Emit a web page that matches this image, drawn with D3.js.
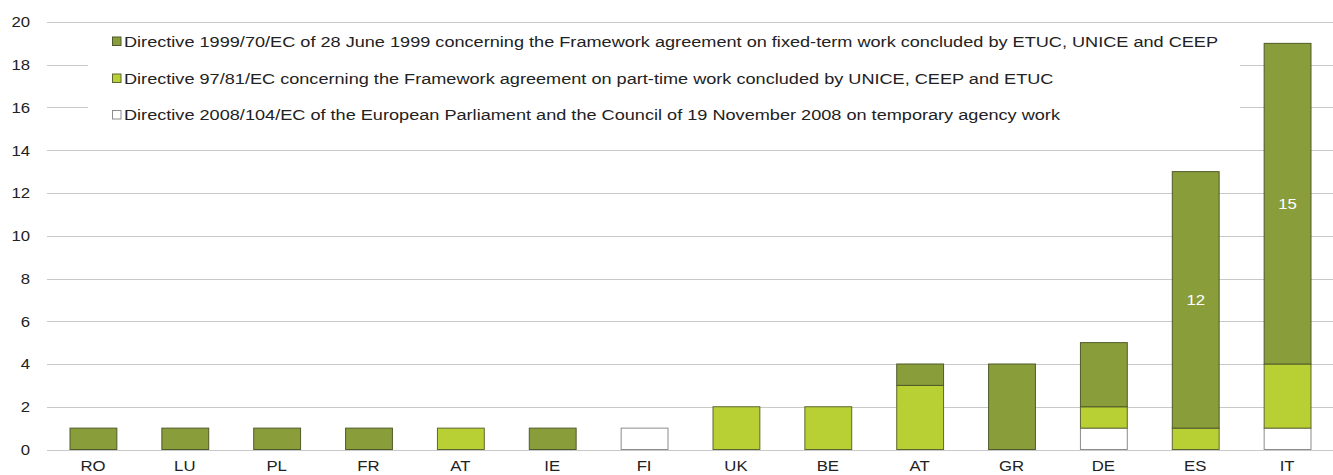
<!DOCTYPE html>
<html>
<head>
<meta charset="utf-8">
<script src="https://cdn.jsdelivr.net/npm/d3@7"></script>
<style>
  html, body { margin: 0; padding: 0; background: #fff; }
  svg { display: block; }
  svg text { font-family: Arial, "Liberation Sans", Helvetica, sans-serif; }
</style>
</head>
<body>
<div id="chart"></div>
<script>
// Countries along the x axis (AT appears twice in the source listing)
const countries = ["RO", "LU", "PL", "FR", "AT", "IE", "FI", "UK", "BE", "AT", "GR", "DE", "ES", "IT"];

// Number of cases per directive, one value per country
const agencyWork   = [0, 0, 0, 0, 0, 0, 1, 0, 0, 0, 0, 1, 0, 1];
const partTime     = [0, 0, 0, 0, 1, 0, 0, 2, 2, 3, 0, 1, 1, 3];
const fixedTerm    = [1, 1, 1, 1, 0, 1, 0, 0, 0, 1, 4, 3, 12, 15];

const seriesNames = [
  "Directive 1999/70/EC of 28 June 1999 concerning the Framework agreement on fixed-term work concluded by ETUC, UNICE and CEEP",
  "Directive 97/81/EC concerning the Framework agreement on part-time work concluded by UNICE, CEEP and ETUC",
  "Directive 2008/104/EC of the European Parliament and the Council of 19 November 2008 on temporary agency work"
];

const yTicks = [0, 2, 4, 6, 8, 10, 12, 14, 16, 18, 20];
const labelledValues = [12, 15]; // values written inside their segments

const W = 1333, H = 475;
const margin = { top: 22, right: 0, bottom: 25.5, left: 47 };

const svg = d3.select("#chart").append("svg").attr("width", W).attr("height", H);

const x = d3.scaleBand()
  .domain(d3.range(countries.length))
  .range([margin.left, W - margin.right])
  .paddingInner(0.49).paddingOuter(0.245);

const y = d3.scaleLinear().domain([0, 20]).range([H - margin.bottom, margin.top]);

// Horizontal gridlines
svg.append("g").selectAll("line").data(yTicks).join("line")
  .attr("x1", margin.left).attr("x2", W)
  .attr("y1", d => Math.round(y(d)) + 0.5).attr("y2", d => Math.round(y(d)) + 0.5)
  .attr("stroke", "#c8c8c8").attr("stroke-width", 1.2);

// Y tick labels (text is drawn slightly wide)
svg.append("g").selectAll("text").data(yTicks).join("text")
  .attr("transform", d => `translate(30,${y(d)}) scale(1.08,1)`)
  .attr("dy", "0.35em")
  .attr("text-anchor", "end").attr("font-size", 15.5).attr("fill", "#222")
  .text(d => d);

// Stack: agency work at the bottom, then part-time, then fixed-term
const rows = countries.map((c, i) => ({ i, agency: agencyWork[i], part: partTime[i], fixed: fixedTerm[i] }));
const keys = ["agency", "part", "fixed"];
const fills = { agency: "#ffffff", part: "#b9d034", fixed: "#8a9d3b" };
const strokes = { agency: "#8c8c8c", part: "#5e6630", fixed: "#4f5a2a" };
const stacked = d3.stack().keys(keys)(rows);

// Legend sits on a white panel over the gridlines
const legend = svg.append("g");
legend.append("rect").attr("x", 88).attr("y", 27).attr("width", 1152).attr("height", 100).attr("fill", "#fff");

const gBars = svg.append("g");
stacked.forEach(layer => {
  gBars.append("g").selectAll("rect")
    .data(layer.filter(d => d[1] - d[0] > 0))
    .join("rect")
    .attr("x", d => x(d.data.i) + 0.5)
    .attr("width", x.bandwidth())
    .attr("y", d => y(d[1]))
    .attr("height", d => y(d[0]) - y(d[1]))
    .attr("fill", fills[layer.key])
    .attr("stroke", strokes[layer.key])
    .attr("stroke-width", 1);
});

// Value labels in the large fixed-term segments
const fixedLayer = stacked[2];
svg.append("g").selectAll("text")
  .data(fixedLayer.filter(d => labelledValues.includes(d[1] - d[0])))
  .join("text")
  .attr("transform", d => `translate(${x(d.data.i) + x.bandwidth() / 2 + 0.5},${y((d[0] + d[1]) / 2)}) scale(1.08,1)`)
  .attr("dy", "0.35em").attr("text-anchor", "middle")
  .attr("font-size", 15.5).attr("fill", "#fff")
  .text(d => d[1] - d[0]);

// X category labels
svg.append("g").selectAll("text").data(countries).join("text")
  .attr("transform", (d, i) => `translate(${x(i) + x.bandwidth() / 2},471) scale(1.08,1)`)
  .attr("text-anchor", "middle")
  .attr("font-size", 15.5).attr("fill", "#222")
  .text(d => d);

// Legend entries
const legendKeys = ["fixed", "part", "agency"];
const legendY = [41.5, 78.5, 115];
legendKeys.forEach((k, j) => {
  legend.append("rect")
    .attr("x", 112.5).attr("y", legendY[j] - 4.5).attr("width", 8.5).attr("height", 8.5)
    .attr("fill", fills[k]).attr("stroke", strokes[k]).attr("stroke-width", 1);
  legend.append("text")
    .attr("transform", `translate(124,${legendY[j]}) scale(1.17,1)`)
    .attr("dy", "0.35em")
    .attr("font-size", 15.5).attr("fill", "#222")
    .text(seriesNames[j]);
});
</script>
</body>
</html>
